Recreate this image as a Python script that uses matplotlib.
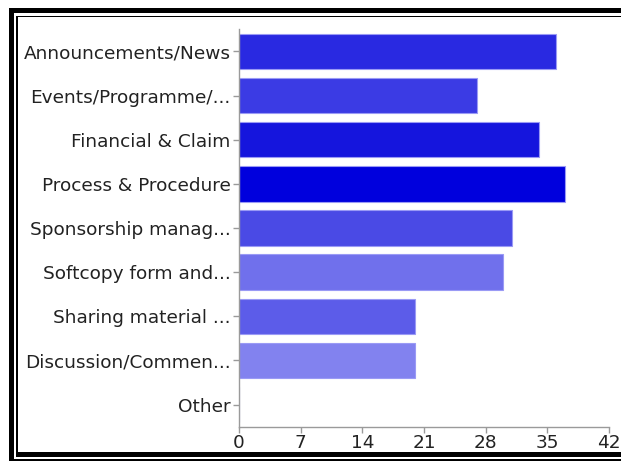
import matplotlib
matplotlib.use("Agg")
import matplotlib.pyplot as plt
from matplotlib.patches import Rectangle

# Response counts per content type
categories = [
    "Announcements/News",
    "Events/Programme/...",
    "Financial & Claim",
    "Process & Procedure",
    "Sponsorship manag...",
    "Softcopy form and...",
    "Sharing material ...",
    "Discussion/Commen...",
    "Other",
]
counts = [36, 27, 34, 37, 31, 30, 20, 20, 0]
bar_colors = [
    "#2929E1", "#3B3BE4", "#1515DD", "#0000DD", "#4A4AE5",
    "#7070EC", "#5C5CE9", "#8282EF", "#9999F2",
]
x_ticks = [0, 7, 14, 21, 28, 35, 42]

W, H = 621, 461
fig = plt.figure(figsize=(W / 100, H / 100), dpi=100)


def px_rect(x0, y0, x1, y1):
    # pixel box measured from the top-left corner -> figure fraction rectangle
    return Rectangle((x0 / W, 1 - y1 / H), (x1 - x0) / W, (y1 - y0) / H,
                     transform=fig.transFigure, facecolor="black",
                     edgecolor="none", zorder=10)


# double frame around the chart
for box in [(9, 8, 14, 461), (9, 8, W, 13), (16, 16, 17.5, 456),
            (16, 16, W, 17.5), (16, 452, W, 456.5), (9, 459, W, 461)]:
    fig.patches.append(px_rect(*box))

ax = fig.add_axes([239 / W, 1 - 426.7 / H, 370 / W, 397.4 / H])

ypos = list(range(len(categories)))
ax.barh(ypos, counts, height=0.8, color=bar_colors,
        edgecolor="#9a9af5", linewidth=0.8)

ax.set_ylim(len(categories) - 0.5, -0.5)
ax.set_xlim(0, 42)
ax.set_xticks(x_ticks)
ax.set_yticks(ypos)
ax.set_yticklabels(categories)

for side in ("top", "right"):
    ax.spines[side].set_visible(False)
for side in ("left", "bottom"):
    ax.spines[side].set_color("#9a9a9a")
    ax.spines[side].set_linewidth(1.0)

ax.tick_params(axis="both", colors="#9a9a9a", length=4, width=1.0,
               labelcolor="#222222", labelsize=13.3)
ax.tick_params(axis="y", pad=2)
ax.tick_params(axis="x", pad=1.5)
for lbl in ax.get_xticklabels() + ax.get_yticklabels():
    lbl.set_fontfamily("DejaVu Sans")

fig.savefig("out.png", dpi=100)
